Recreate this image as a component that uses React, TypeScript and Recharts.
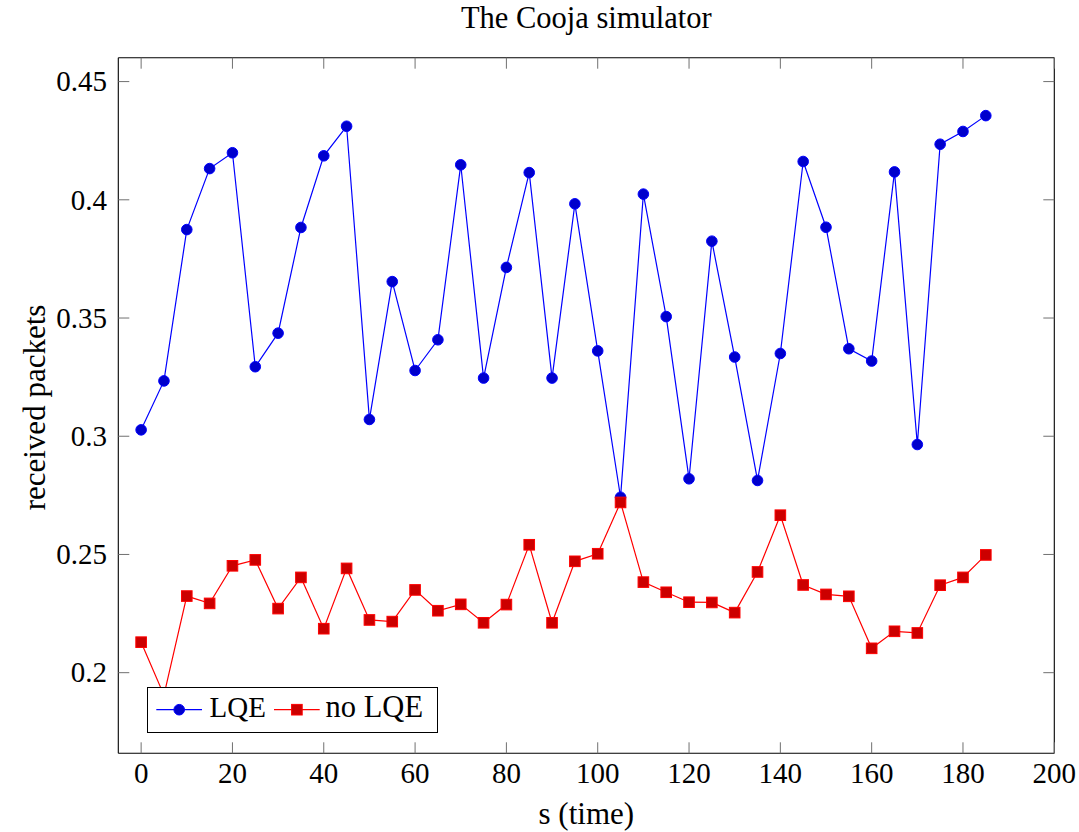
import React from 'react';
import { LineChart, Line, XAxis, YAxis, Legend, Label } from 'recharts';

const times = [0, 5, 10, 15, 20, 25, 30, 35, 40, 45, 50, 55, 60, 65, 70, 75, 80, 85, 90, 95, 100, 105, 110, 115, 120, 125, 130, 135, 140, 145, 150, 155, 160, 165, 170, 175, 180, 185];
const lqeValues = [0.3027, 0.3234, 0.3874, 0.4132, 0.4199, 0.3294, 0.3436, 0.3883, 0.4186, 0.4311, 0.3071, 0.3654, 0.3278, 0.3408, 0.4148, 0.3246, 0.3714, 0.4115, 0.3246, 0.3983, 0.3361, 0.2742, 0.4024, 0.3506, 0.282, 0.3825, 0.3335, 0.2813, 0.335, 0.4162, 0.3884, 0.337, 0.3318, 0.4118, 0.2965, 0.4235, 0.4289, 0.4356];
const noLqeValues = [0.2129, 0.1905, 0.2324, 0.2293, 0.2452, 0.2477, 0.2271, 0.2403, 0.2186, 0.2441, 0.2223, 0.2216, 0.235, 0.2262, 0.2289, 0.2211, 0.2288, 0.2541, 0.2211, 0.2471, 0.2503, 0.272, 0.2383, 0.234, 0.2298, 0.2297, 0.2254, 0.2426, 0.2666, 0.2371, 0.2331, 0.2323, 0.2103, 0.2175, 0.2168, 0.237, 0.2403, 0.2498];
const xTicks = [0, 20, 40, 60, 80, 100, 120, 140, 160, 180, 200];
const yTicks = [0.2, 0.25, 0.3, 0.35, 0.4, 0.45];
const yTickLabels = ['0.2', '0.25', '0.3', '0.35', '0.4', '0.45'];
const xDomain = [-5, 200];
const yDomain = [0.1659, 0.4601];
const titleText = 'The Cooja simulator';
const xLabelText = 's (time)';
const yLabelText = 'received packets';
const seriesNames = ['LQE', 'no LQE'];

const data = times.map((t, i) => ({ t, lqe: lqeValues[i], noLqe: noLqeValues[i] }));

const FONT = "'Liberation Serif', 'DejaVu Serif', serif";
const FS = 29;
const FS_LABEL = 31;
const TICK_LEN = 11;
const TICK_COLOR = '#707070';

const txtStyle = { fontFamily: FONT, fontSize: FS };
const labelStyle = { fontFamily: FONT, fontSize: FS_LABEL };
const titleStyle = { fontFamily: FONT, fontSize: 30.5 };

const BottomTick = (props: any) => {
  const { x, y, payload } = props;
  return (
    <g>
      <line x1={x} y1={y} x2={x} y2={y - TICK_LEN} stroke={TICK_COLOR} strokeWidth={1} />
      <text x={x} y={y + 29.7} textAnchor="middle" style={txtStyle} fill="#000">
        {payload.value}
      </text>
    </g>
  );
};

const TopTick = (props: any) => {
  const { x, y } = props;
  return <line x1={x} y1={y} x2={x} y2={y + TICK_LEN} stroke={TICK_COLOR} strokeWidth={1} />;
};

const LeftTick = (props: any) => {
  const { x, y, payload } = props;
  const idx = yTicks.indexOf(payload.value);
  const label = idx >= 0 ? yTickLabels[idx] : String(payload.value);
  return (
    <g>
      <line x1={x} y1={y} x2={x + TICK_LEN} y2={y} stroke={TICK_COLOR} strokeWidth={1} />
      <text x={x - 11.3} y={y + 9.8} textAnchor="end" style={txtStyle} fill="#000">
        {label}
      </text>
    </g>
  );
};

const RightTick = (props: any) => {
  const { x, y } = props;
  return <line x1={x} y1={y} x2={x - TICK_LEN} y2={y} stroke={TICK_COLOR} strokeWidth={1} />;
};

const SquareDot = (props: any) => {
  const { cx, cy, index } = props;
  if (cx == null || cy == null) return <g key={`sq-${index}`} />;
  const h = 5.3;
  return (
    <rect key={`sq-${index}`} x={cx - h} y={cy - h} width={2 * h} height={2 * h} fill="#cc0000" stroke="#ff0000" strokeWidth={1} />
  );
};

const LegendContent = (props: any) => {
  const { payload } = props;
  const items = (payload || []) as any[];
  const starts = [8.3, 126];
  const textStarts = [61.6, 177.6];
  return (
    <div style={{ width: 291, height: 46, border: '1px solid #000', background: '#fff', boxSizing: 'border-box' }}>
      <svg width={289} height={44} style={{ display: 'block' }}>
        {items.map((it, i) => {
          const x0 = starts[i];
          const cx = x0 + 22.9;
          const cy = 21.7;
          return (
            <g key={it.value}>
              <line x1={x0} y1={cy} x2={x0 + 45.7} y2={cy} stroke={it.color} strokeWidth={1.2} />
              {i === 0 ? (
                <circle cx={cx} cy={cy} r={5.3} fill="#0000cc" stroke="#0000ff" strokeWidth={1} />
              ) : (
                <rect x={cx - 5.3} y={cy - 5.3} width={10.6} height={10.6} fill="#cc0000" stroke="#ff0000" strokeWidth={1} />
              )}
              <text x={textStarts[i]} y={29} style={{ fontFamily: FONT, fontSize: i === 0 ? FS : 30.5 }} fill="#000">
                {it.value}
              </text>
            </g>
          );
        })}
      </svg>
    </div>
  );
};

export default function App() {
  return (
    <div style={{ position: 'absolute', left: 0, top: 0, width: 1079, height: 832, background: '#fff', fontFamily: FONT }}>
      <LineChart
        width={1079}
        height={832}
        data={data}
        margin={{ top: 56.7, right: 23.7, bottom: 48.7, left: 58.3 }}
        style={{ fontFamily: FONT }}
      >
        <XAxis
          xAxisId="bottom"
          dataKey="t"
          type="number"
          domain={xDomain}
          allowDataOverflow
          ticks={xTicks}
          interval={0}
          height={30}
          tickSize={0}
          tickMargin={0}
          tickLine={false}
          axisLine={{ stroke: '#000', strokeWidth: 1.1 }}
          tick={<BottomTick />}
        >
          <Label
            content={(p: any) => {
              const vb = p.viewBox;
              return (
                <text x={vb.x + vb.width / 2} y={vb.y + 70.7} textAnchor="middle" style={labelStyle} fill="#000">
                  {xLabelText}
                </text>
              );
            }}
          />
        </XAxis>
        <XAxis
          xAxisId="top"
          orientation="top"
          dataKey="t"
          type="number"
          domain={xDomain}
          allowDataOverflow
          ticks={xTicks}
          interval={0}
          height={1}
          tickSize={0}
          tickMargin={0}
          tickLine={false}
          axisLine={{ stroke: '#000', strokeWidth: 1.1 }}
          tick={<TopTick />}
        >
          <Label
            content={(p: any) => {
              const vb = p.viewBox;
              return (
                <text x={vb.x + vb.width / 2} y={vb.y + vb.height - 29.7} textAnchor="middle" style={titleStyle} fill="#000">
                  {titleText}
                </text>
              );
            }}
          />
        </XAxis>
        <YAxis
          yAxisId="left"
          type="number"
          domain={yDomain}
          allowDataOverflow
          ticks={yTicks}
          interval={0}
          width={60}
          tickSize={0}
          tickMargin={0}
          tickLine={false}
          axisLine={{ stroke: '#000', strokeWidth: 1.1 }}
          tick={<LeftTick />}
        >
          <Label
            content={(p: any) => {
              const vb = p.viewBox;
              const lx = vb.x + vb.width - 73.3;
              const ly = vb.y + vb.height / 2 + 2;
              return (
                <text x={lx} y={ly} transform={`rotate(-90, ${lx}, ${ly})`} textAnchor="middle" style={labelStyle} fill="#000">
                  {yLabelText}
                </text>
              );
            }}
          />
        </YAxis>
        <YAxis
          yAxisId="right"
          orientation="right"
          type="number"
          domain={yDomain}
          allowDataOverflow
          ticks={yTicks}
          interval={0}
          width={1}
          tickSize={0}
          tickMargin={0}
          tickLine={false}
          axisLine={{ stroke: '#000', strokeWidth: 1.1 }}
          tick={<RightTick />}
        />
        <Line
          xAxisId="bottom"
          yAxisId="left"
          type="linear"
          dataKey="lqe"
          name={seriesNames[0]}
          stroke="#0000ff"
          strokeWidth={1.2}
          dot={{ r: 5.3, fill: '#0000cc', stroke: '#0000ff', strokeWidth: 1 }}
          activeDot={false}
          isAnimationActive={false}
        />
        <Line
          xAxisId="bottom"
          yAxisId="left"
          type="linear"
          dataKey="noLqe"
          name={seriesNames[1]}
          stroke="#ff0000"
          strokeWidth={1.2}
          dot={<SquareDot />}
          activeDot={false}
          isAnimationActive={false}
        />
        <Legend
          layout="horizontal"
          align="center"
          verticalAlign="middle"
          content={<LegendContent />}
          wrapperStyle={{ position: 'absolute', left: 146.7, top: 686.7, width: 291, height: 46, margin: 0, padding: 0 }}
        />
      </LineChart>
    </div>
  );
}
